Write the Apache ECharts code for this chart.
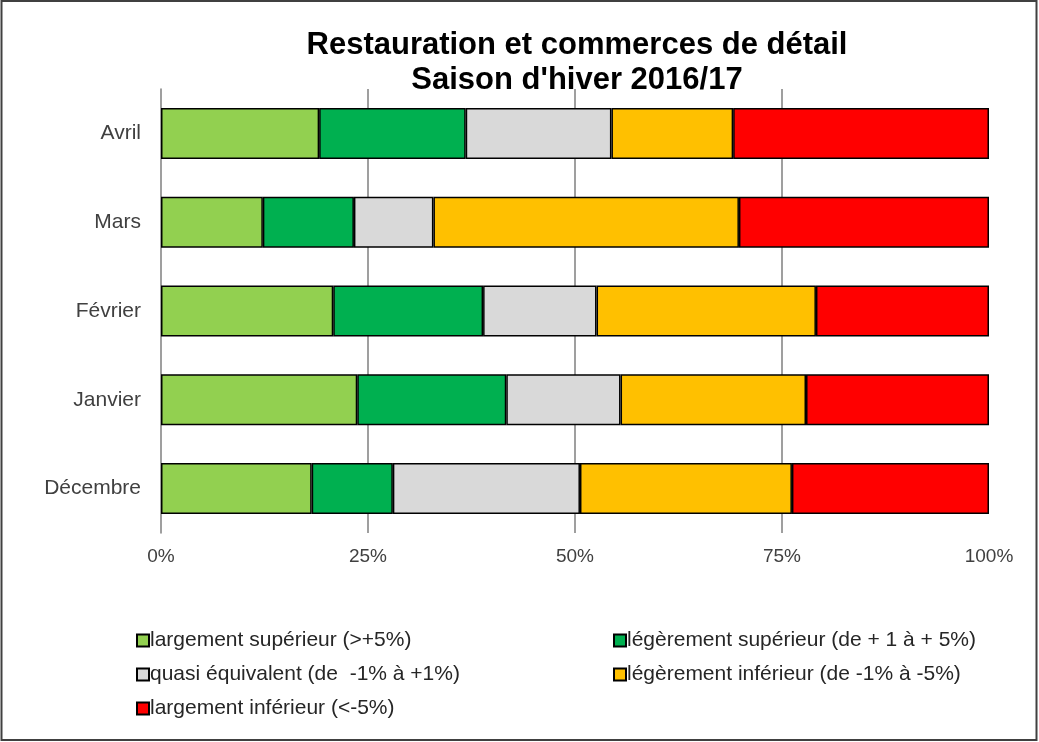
<!DOCTYPE html>
<html>
<head>
<meta charset="utf-8">
<script src="https://cdn.jsdelivr.net/npm/echarts@6/dist/echarts.min.js"></script>
<style>html,body{margin:0;padding:0;background:#fff}#c{width:1039px;height:742px}</style>
</head>
<body>
<div id="c"></div>
<script>
const categories = ['Avril', 'Mars', 'Février', 'Janvier', 'Décembre'];
const largementSup = [19.1, 12.3, 20.8, 23.7, 18.2];
const legerementSup = [17.7, 11.0, 18.1, 18.0, 9.8];
const quasiEquiv = [17.6, 9.6, 13.7, 13.8, 22.6];
const legerementInf = [14.7, 36.9, 26.5, 22.4, 25.6];
const largementInf = [30.9, 30.2, 20.9, 22.1, 23.8];
const xTicks = [0, 25, 50, 75, 100];
const seriesNames = [
  'largement supérieur (>+5%)',
  'légèrement supérieur (de + 1 à + 5%)',
  'quasi équivalent (de  -1% à +1%)',
  'légèrement inférieur (de -1% à -5%)',
  'largement inférieur (<-5%)'
];
const seriesData = [largementSup, legerementSup, quasiEquiv, legerementInf, largementInf];
const colors = ['#92D050', '#00B050', '#D9D9D9', '#FFC000', '#FF0000'];

const chart = echarts.init(document.getElementById('c'), null, {renderer: 'canvas'});
const font = 'Liberation Sans, Arial, sans-serif';
chart.setOption({
  animation: false,
  backgroundColor: '#fff',
  title: {
    text: 'Restauration et commerces de détail\nSaison d\'hiver 2016/17',
    left: 572, top: 23, textAlign: 'center',
    textStyle: {fontFamily: font, fontSize: 31, fontWeight: 'bold', color: '#000', lineHeight: 35}
  },
  legend: [
    {
      data: [seriesNames[0], seriesNames[2], seriesNames[4]],
      orient: 'vertical', left: 131, top: 625, itemGap: 13,
      itemWidth: 12, itemHeight: 12, icon: 'rect',
      textStyle: {fontFamily: font, fontSize: 21, color: '#262626', padding: [0, 0, 0, -4]}
    },
    {
      data: [seriesNames[1], seriesNames[3]],
      orient: 'vertical', left: 608, top: 625, itemGap: 13,
      itemWidth: 12, itemHeight: 12, icon: 'rect',
      textStyle: {fontFamily: font, fontSize: 21, color: '#262626', padding: [0, 0, 0, -4]}
    }
  ],
  grid: {left: 161, right: 50, top: 89, bottom: 209, containLabel: false},
  xAxis: {
    type: 'value', min: 0, max: 100, interval: 25,
    axisLine: {show: false},
    axisTick: {show: false},
    splitLine: {show: true, showMaxLine: false, showMinLine: false, lineStyle: {color: '#7f7f7f', width: 1.5}},
    axisLabel: {
      fontFamily: font, fontSize: 19, color: '#404040', margin: 14,
      formatter: v => xTicks.includes(v) ? v + '%' : ''
    }
  },
  yAxis: {
    type: 'category', data: categories, inverse: true,
    axisLine: {show: true, lineStyle: {color: '#7f7f7f', width: 1.5}},
    axisTick: {show: false},
    axisLabel: {fontFamily: font, fontSize: 21, color: '#404040', margin: 20}
  },
  series: seriesNames.map((name, i) => ({
    name, type: 'bar', stack: 'total', data: seriesData[i], barWidth: 51,
    itemStyle: {color: colors[i], borderColor: '#000', borderWidth: 1.5}
  })),
  graphic: [{
    type: 'rect', shape: {x: 1.5, y: 1, width: 1035, height: 739},
    style: {fill: 'none', stroke: '#404040', lineWidth: 2}, silent: true
  }]
});
</script>
</body>
</html>
